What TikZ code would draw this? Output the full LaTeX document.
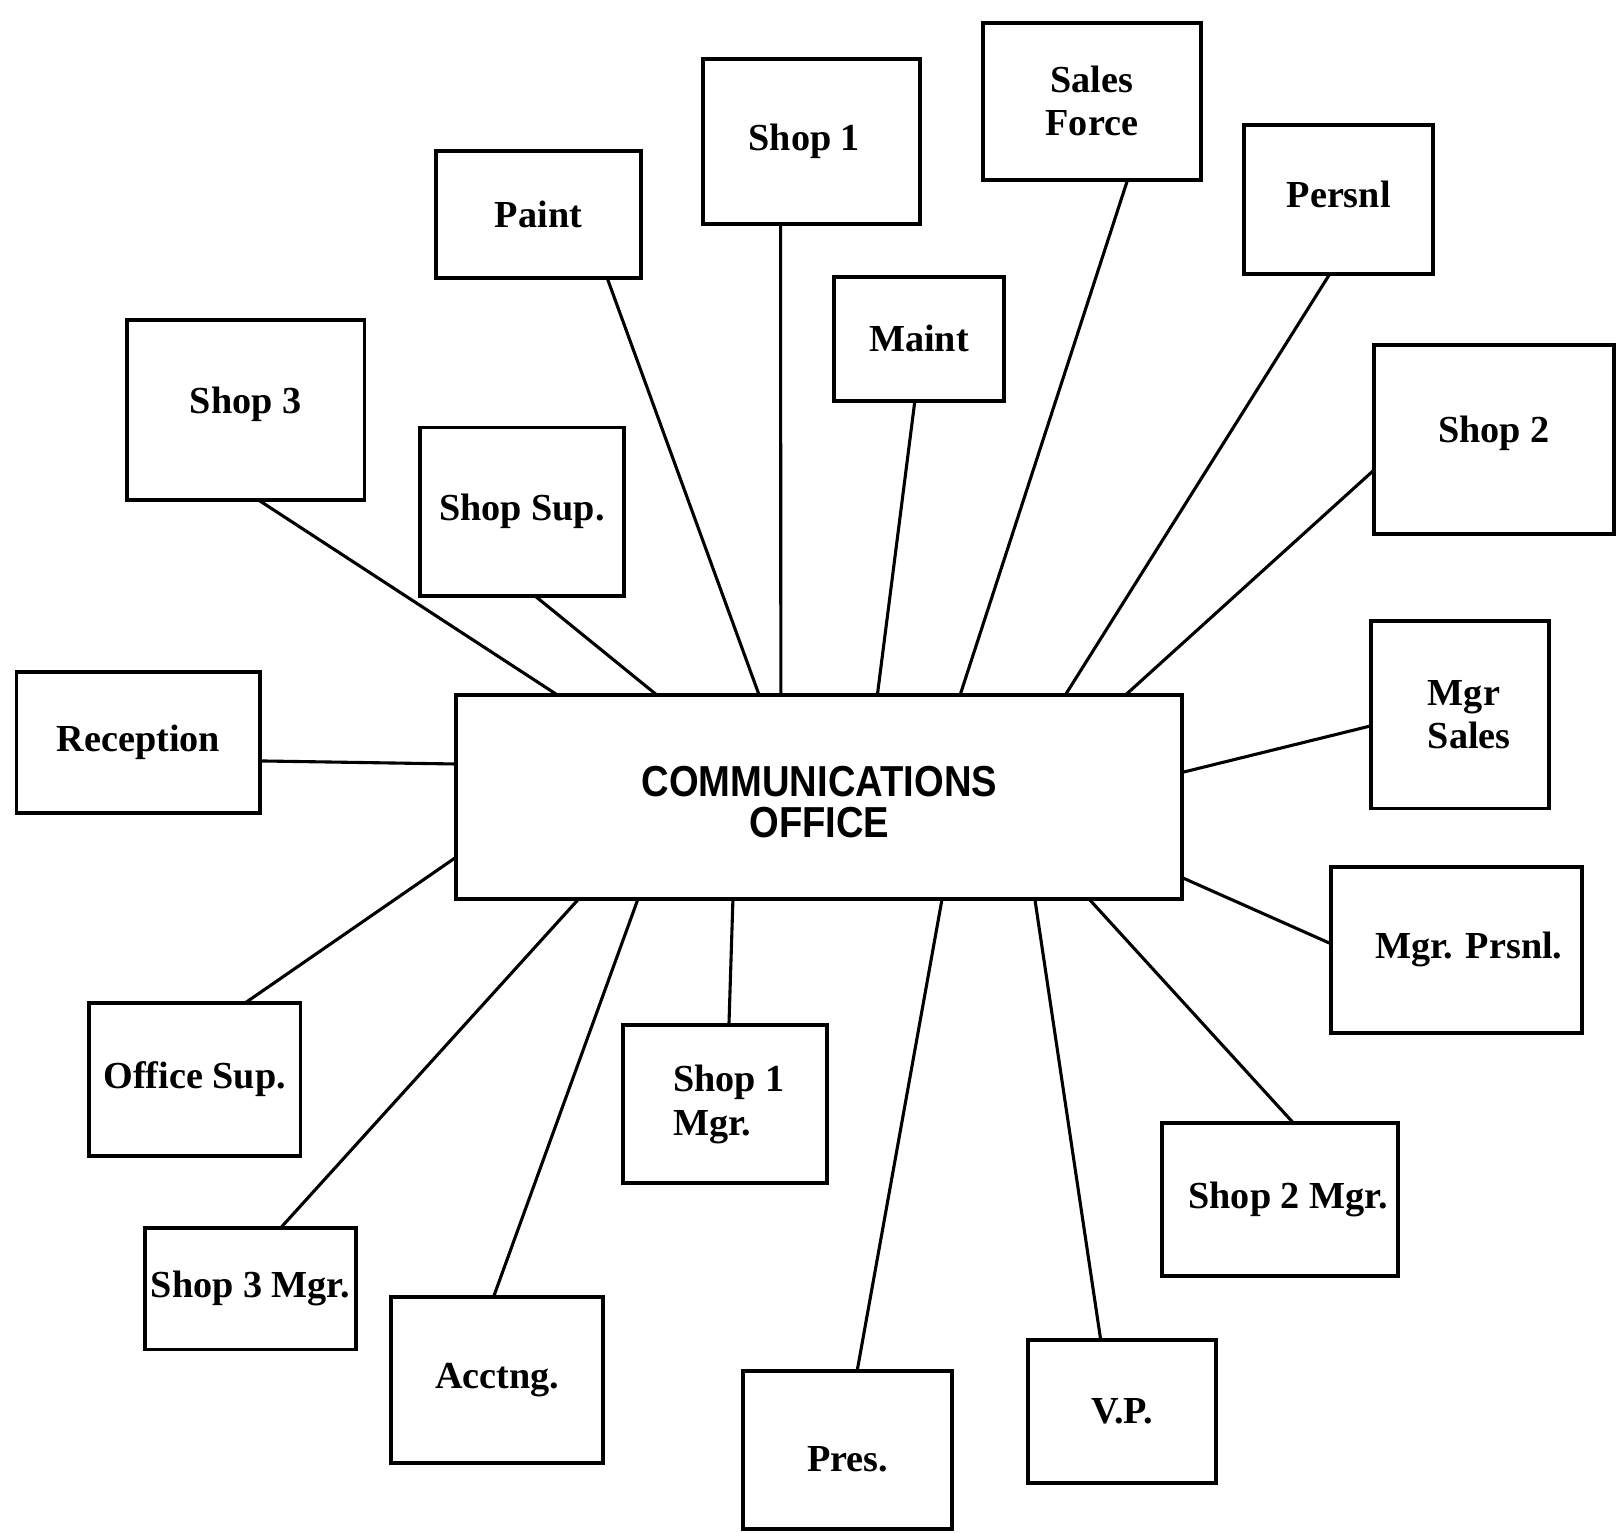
\documentclass[tikz,border=0pt]{standalone}
\usepackage{fontspec}
\setmainfont{Liberation Serif}
\newfontfamily\cofont{Liberation Sans}
\usetikzlibrary{calc}
\tikzset{
  box/.style={draw, line width=1.9pt, inner sep=0pt, outer sep=0pt, align=center,
    font=\fontsize{18.5}{21}\selectfont\bfseries},
  link/.style={line width=1.5pt},
}
\newcommand\bx[7][]{\node[box,#1, minimum width={(#5-#3)*0.5pt}, minimum height={(#6-#4)*0.5pt}] (#2) at ({(#3+#5)/2},{(#4+#6)/2}) {#7};}
\newcommand\hp[3]{($(#1.#2 west)!#3!(#1.#2 east)$)}
\newcommand\vp[3]{($(#1.north #2)!#3!(#1.south #2)$)}
\begin{document}
\begin{tikzpicture}[x=0.5pt,y=-0.5pt]
\useasboundingbox (0,0) rectangle (1568,1484);
\bx{paint}{422}{146}{621}{269}{Paint}
\bx{shopone}{681}{57}{891}{217}{Shop 1\hspace*{7pt}}
\bx{sales}{952}{22}{1163}{174}{Sales\\Force}
\bx{persnl}{1205}{121}{1388}{265}{\raisebox{0pt}[\height][\dimexpr\depth+5pt\relax]{Persnl}}
\bx{maint}{808}{268}{972}{388}{Maint}
\bx{shopthree}{123}{310}{353}{484}{\raisebox{0pt}[\height][\dimexpr\depth+5pt\relax]{Shop 3}}
\bx{shopsup}{407}{414}{604}{577}{Shop Sup.}
\bx{shoptwo}{1331}{334}{1563}{517}{\raisebox{0pt}[\height][\dimexpr\depth+6pt\relax]{Shop 2}}
\bx{reception}{16}{651}{252}{787}{Reception}
\bx[align=left]{mgrsales}{1328}{601}{1500}{783}{\hspace*{9pt}Mgr\\\hspace*{9pt}Sales}
\bx{mgrprsnl}{1289}{840}{1532}{1000}{\hspace*{12pt}Mgr. Prsnl.}
\bx{officesup}{86}{971}{291}{1120}{Office Sup.}
\bx[align=left]{shoponemgr}{603}{993}{801}{1146}{\hspace*{4pt}Shop 1\\\hspace*{4pt}Mgr.}
\bx{shoptwomgr}{1125}{1088}{1354}{1236}{\hspace*{8pt}Shop 2 Mgr.}
\bx{shopthreemgr}{140}{1189}{345}{1307}{Shop 3 Mgr.}
\bx{acctng}{379}{1256}{584}{1417}{Acctng.}
\bx{pres}{720}{1328}{922}{1481}{\raisebox{0pt}[\dimexpr\height+9pt\relax][\depth]{Pres.}}
\bx{vp}{996}{1298}{1178}{1436}{V.P.}
\bx{co}{442}{673}{1145}{871}{\cofont\bfseries\fontsize{21}{17.5}\selectfont
  \raisebox{0pt}[\dimexpr\height+10pt\relax][\depth]{\scalebox{0.88}[1]{\begin{tabular}{@{}c@{}}COMMUNICATIONS\\OFFICE\end{tabular}}}}
% connectors
\draw[link] \hp{shopthree}{south}{0.552} -- \hp{co}{north}{0.139};
\draw[link] \hp{shopsup}{south}{0.563} -- \hp{co}{north}{0.276};
\draw[link] \hp{paint}{south}{0.834} -- \hp{co}{north}{0.417};
\draw[link] \hp{shopone}{south}{0.357} -- \hp{co}{north}{0.447};
\draw[link] \hp{maint}{south}{0.476} -- \hp{co}{north}{0.580};
\draw[link] \hp{sales}{south}{0.664} -- \hp{co}{north}{0.694};
\draw[link] \hp{persnl}{south}{0.454} -- \hp{co}{north}{0.839};
\draw[link] \vp{shoptwo}{west}{0.661} -- \hp{co}{north}{0.922};
\draw[link] \vp{reception}{east}{0.632} -- \vp{co}{west}{0.338};
\draw[link] \vp{mgrsales}{west}{0.56} -- \vp{co}{east}{0.379};
\draw[link] \hp{officesup}{north}{0.741} -- \vp{co}{west}{0.793};
\draw[link] \vp{mgrprsnl}{west}{0.4625} -- \vp{co}{east}{0.894};
\draw[link] \hp{shopthreemgr}{north}{0.644} -- \hp{co}{south}{0.168};
\draw[link] \hp{acctng}{north}{0.483} -- \hp{co}{south}{0.250};
\draw[link] \hp{shoponemgr}{north}{0.52} -- \hp{co}{south}{0.381};
\draw[link] \hp{pres}{north}{0.545} -- \hp{co}{south}{0.669};
\draw[link] \hp{vp}{north}{0.385} -- \hp{co}{south}{0.797};
\draw[link] \hp{shoptwomgr}{north}{0.559} -- \hp{co}{south}{0.872};
\end{tikzpicture}
\end{document}
